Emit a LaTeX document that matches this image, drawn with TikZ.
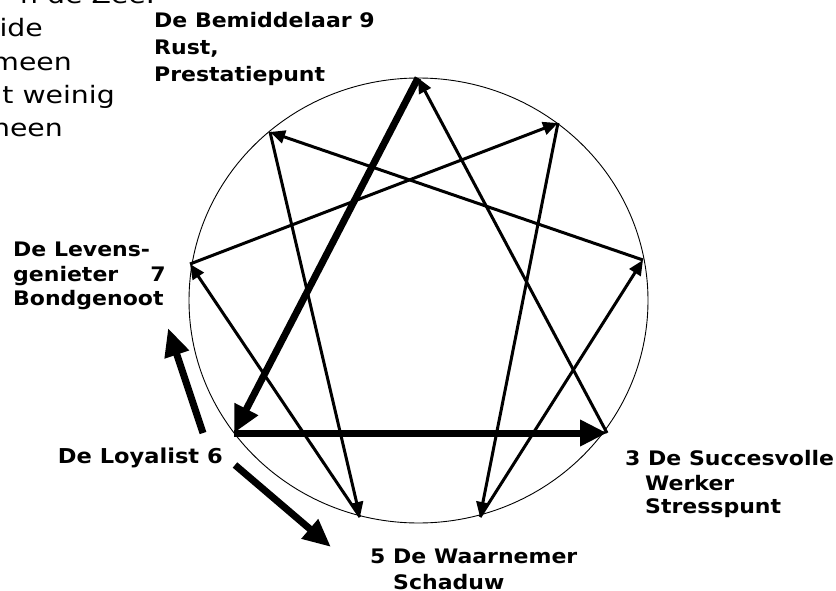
\documentclass[tikz,border=0pt]{standalone}
\usepackage{fontspec}
\setmainfont{DejaVu Sans}
\newfontfamily\labfont[FakeStretch=1.1]{DejaVu Sans}
\newfontfamily\fragfont[FakeStretch=1.18]{DejaVu Sans}
\usetikzlibrary{arrows.meta}
\begin{document}
\begin{tikzpicture}[x=1pt,y=-1pt,
 thinarr/.style={line width=3pt,-{Triangle[length=15pt,width=13pt]}},
 thickarr/.style={line width=7pt,-{Triangle[length=27pt,width=25pt]}},
 sidearr/.style={line width=7pt,-{Triangle[length=28pt,width=24pt]}},
 lab/.style={anchor=base west,inner sep=0pt,font=\labfont\bfseries\fontsize{20}{24}\selectfont},
 frag/.style={anchor=base east,inner sep=0pt,font=\fragfont\fontsize{24}{28}\selectfont}]
\useasboundingbox (0,0) rectangle (836,591);
\clip (0,0) rectangle (836,591);
% circle
\draw[line width=0.9pt] (418.5,300.5) ellipse [x radius=229.5, y radius=222.5];
% points
\coordinate (p9) at (418,78);
\coordinate (p1) at (558,123);
\coordinate (p2) at (643,260);
\coordinate (p3) at (607,433);
\coordinate (p4) at (480,517);
\coordinate (p5) at (360,517);
\coordinate (p6) at (234,433);
\coordinate (p7) at (190,264);
\coordinate (p8) at (270,132);
% thin arrows
\draw[thinarr] (p7) -- (p1);
\draw[thinarr] (p1) -- (p4);
\draw[thinarr] (p4) -- (p2);
\draw[thinarr] (p2) -- (p8);
\draw[thinarr] (p8) -- (p5);
\draw[thinarr] (p5) -- (p7);
\draw[thinarr] (p3) -- (p9);
% thick arrows
\draw[thickarr] (p9) -- (p6);
\draw[thickarr] (p6) -- (p3);
% side arrows
\coordinate (s1a) at (203,433);
\coordinate (s1b) at (168,328);
\coordinate (s2a) at (235,465);
\coordinate (s2b) at (331,547);
\draw[sidearr] (s1a) -- (s1b);
\draw[sidearr] (s2a) -- (s2b);
% labels
\node[lab] (l9a) at (154,28) {De Bemiddelaar 9};
\node[lab] (l9b) at (154,55) {Rust,};
\node[lab] (l9c) at (154,82) {Prestatiepunt};
\node[lab] (l7a) at (13,256.5) {De Levens-};
\node[lab] (l7b) at (13,281) {genieter\hspace{32pt}7};
\node[lab] (l7c) at (13,305.5) {Bondgenoot};
\node[lab,anchor=base east,font=\labfont\bfseries\fontsize{20.5}{24}\selectfont] (l6) at (223,463) {De Loyalist 6};
\node[lab] (l3a) at (625,465) {3 De Succesvolle};
\node[lab] (l3b) at (645,490) {Werker};
\node[lab] (l3c) at (645,513) {Stresspunt};
\node[lab] (l5a) at (370,563) {5 De Waarnemer};
\node[lab] (l5b) at (393,589) {Schaduw};
% clipped text fragments at top left
\node[frag] (f0) at (155,4) {n de Zee.};
\node[frag] (f1) at (43,37) {ide};
\node[frag] (f2) at (72,71) {meen};
\node[frag] (f3) at (115,104) {t weinig};
\node[frag] (f4) at (63,137) {neen};
\end{tikzpicture}
\end{document}
